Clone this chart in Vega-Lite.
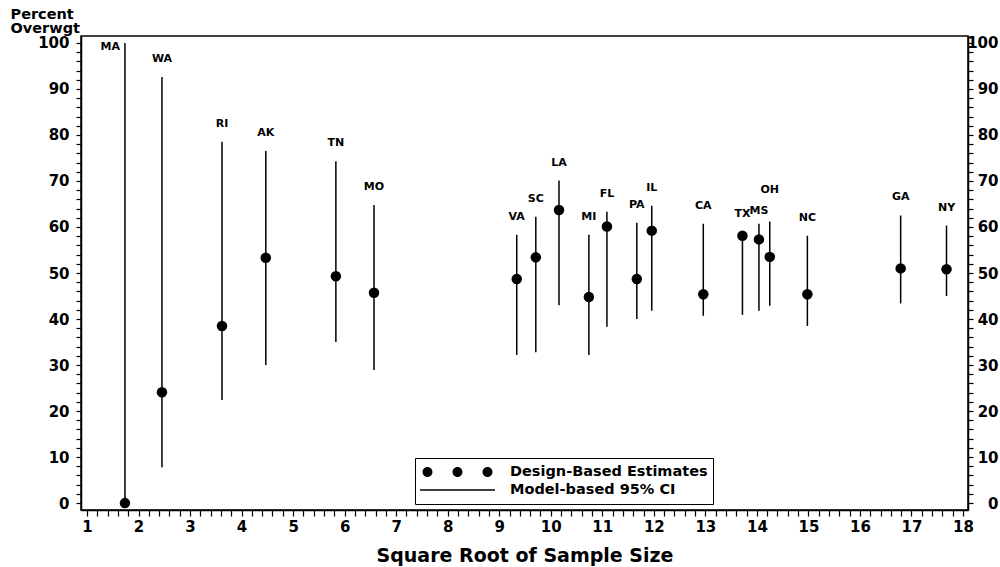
{
  "$schema": "https://vega.github.io/schema/vega-lite/v6.json",
  "width": 887,
  "height": 474,
  "autosize": {"type": "none"},
  "padding": {"left": 81, "top": 36, "right": 32, "bottom": 57},
  "background": "white",
  "config": {
    "view": {"stroke": "black", "strokeWidth": 1.5},
    "axis": {
      "grid": false,
      "domainColor": "black",
      "domainWidth": 1.5,
      "tickColor": "black",
      "tickWidth": 1.2,
      "labelColor": "black",
      "titleColor": "black",
      "labelFont": "DejaVu Sans",
      "labelFontWeight": "bold",
      "labelFontSize": 15,
      "titleFont": "DejaVu Sans",
      "titleFontWeight": "bold",
      "labelOverlap": false,
      "labelFlush": false
    }
  },
  "data": {
    "values": [
      {"state": "MA", "x": 1.737, "est": 0.0, "lower": 0.0, "upper": 100.0},
      {"state": "WA", "x": 2.455, "est": 24.1, "lower": 7.8, "upper": 92.6},
      {"state": "RI", "x": 3.62, "est": 38.5, "lower": 22.4, "upper": 78.5},
      {"state": "AK", "x": 4.47, "est": 53.3, "lower": 30.0, "upper": 76.5},
      {"state": "TN", "x": 5.83, "est": 49.3, "lower": 35.0, "upper": 74.3},
      {"state": "MO", "x": 6.57, "est": 45.7, "lower": 28.9, "upper": 64.8},
      {"state": "VA", "x": 9.34, "est": 48.7, "lower": 32.2, "upper": 58.3},
      {"state": "SC", "x": 9.71, "est": 53.4, "lower": 32.8, "upper": 62.2},
      {"state": "LA", "x": 10.16, "est": 63.7, "lower": 43.0, "upper": 70.1},
      {"state": "MI", "x": 10.74, "est": 44.8, "lower": 32.2, "upper": 58.3},
      {"state": "FL", "x": 11.09, "est": 60.1, "lower": 38.3, "upper": 63.3},
      {"state": "PA", "x": 11.67, "est": 48.7, "lower": 40.0, "upper": 60.9},
      {"state": "IL", "x": 11.96, "est": 59.2, "lower": 41.8, "upper": 64.6},
      {"state": "CA", "x": 12.96, "est": 45.4, "lower": 40.7, "upper": 60.7},
      {"state": "TX", "x": 13.72, "est": 58.1, "lower": 40.9, "upper": 59.0},
      {"state": "MS", "x": 14.04, "est": 57.3, "lower": 41.8, "upper": 60.7},
      {"state": "OH", "x": 14.25, "est": 53.5, "lower": 42.9, "upper": 61.2},
      {"state": "NC", "x": 14.98, "est": 45.4, "lower": 38.5, "upper": 58.1},
      {"state": "GA", "x": 16.79, "est": 51.0, "lower": 43.4, "upper": 62.5},
      {"state": "NY", "x": 17.68, "est": 50.8, "lower": 45.0, "upper": 60.3}
    ]
  },
  "encoding": {
    "x": {
      "field": "x",
      "type": "quantitative",
      "scale": {"domain": [0.884, 18.097], "nice": false, "zero": false},
      "axis": {
        "title": "Square Root of Sample Size",
        "titleFontSize": 19,
        "titlePadding": 12,
        "values": [1,1.2,1.4,1.6,1.8,2,2.2,2.4,2.6,2.8,3,3.2,3.4,3.6,3.8,4,4.2,4.4,4.6,4.8,5,5.2,5.4,5.6,5.8,6,6.2,6.4,6.6,6.8,7,7.2,7.4,7.6,7.8,8,8.2,8.4,8.6,8.8,9,9.2,9.4,9.6,9.8,10,10.2,10.4,10.6,10.8,11,11.2,11.4,11.6,11.8,12,12.2,12.4,12.6,12.8,13,13.2,13.4,13.6,13.8,14,14.2,14.4,14.6,14.8,15,15.2,15.4,15.6,15.8,16,16.2,16.4,16.6,16.8,17,17.2,17.4,17.6,17.8,18],
        "labelExpr": "abs(datum.value - round(datum.value)) < 0.01 ? format(round(datum.value), 'd') : ''",
        "tickSize": 6,
        "labelPadding": 3,
        "encode": {"ticks": {"update": {"y2": {"signal": "abs(datum.value - round(datum.value)) < 0.01 ? 6 : 3"}}}}
      }
    }
  },
  "layer": [
    {
      "mark": {"type": "rule", "color": "black", "strokeWidth": 1.5},
      "encoding": {
        "y": {
          "field": "lower",
          "type": "quantitative",
          "scale": {"domain": [-1.5, 101.5], "nice": false, "zero": false},
          "axis": {
            "orient": "left",
            "title": ["Percent", "Overwgt"],
            "titleAngle": 0,
            "titleAlign": "left",
            "titleBaseline": "alphabetic",
            "titleX": -71,
            "titleY": -18,
            "titleFontSize": 14.5,
            "titleLineHeight": 14,
            "values": [0,2,4,6,8,10,12,14,16,18,20,22,24,26,28,30,32,34,36,38,40,42,44,46,48,50,52,54,56,58,60,62,64,66,68,70,72,74,76,78,80,82,84,86,88,90,92,94,96,98,100],
            "labelExpr": "datum.value % 10 === 0 ? datum.label : ''",
            "tickSize": 5,
            "labelPadding": 7,
            "encode": {"ticks": {"update": {"x2": {"signal": "datum.value % 10 === 0 ? -5 : -3"}}}}
          }
        },
        "y2": {"field": "upper"}
      }
    },
    {
      "mark": {"type": "point", "shape": "circle", "filled": true, "color": "black", "size": 110, "opacity": 1},
      "encoding": {
        "y": {
          "field": "est",
          "type": "quantitative",
          "scale": {"domain": [-1.5, 101.5], "nice": false, "zero": false},
          "axis": {
            "orient": "right",
            "title": null,
            "values": [0,2,4,6,8,10,12,14,16,18,20,22,24,26,28,30,32,34,36,38,40,42,44,46,48,50,52,54,56,58,60,62,64,66,68,70,72,74,76,78,80,82,84,86,88,90,92,94,96,98,100],
            "labelExpr": "datum.value % 10 === 0 ? datum.label : ''",
            "labelAlign": "right",
            "tickSize": 5,
            "labelPadding": 25,
            "encode": {"ticks": {"update": {"x2": {"signal": "datum.value % 10 === 0 ? 5 : 3"}}}}
          }
        }
      }
    },
    {
      "transform": [{"filter": "datum.state !== 'MA' && datum.state !== 'OH' && datum.state !== 'MS'"}],
      "mark": {"type": "text", "font": "DejaVu Sans", "fontWeight": "bold", "fontSize": 11, "baseline": "middle", "align": "center", "dy": -18, "color": "black"},
      "encoding": {
        "y": {"field": "upper", "type": "quantitative", "scale": {"domain": [-1.5, 101.5], "nice": false, "zero": false}, "axis": null},
        "text": {"field": "state"}
      }
    },
    {
      "transform": [{"filter": "datum.state === 'OH'"}],
      "mark": {"type": "text", "font": "DejaVu Sans", "fontWeight": "bold", "fontSize": 11, "baseline": "middle", "align": "center", "dy": -31, "color": "black"},
      "encoding": {
        "y": {"field": "upper", "type": "quantitative", "scale": {"domain": [-1.5, 101.5], "nice": false, "zero": false}, "axis": null},
        "text": {"field": "state"}
      }
    },
    {
      "transform": [{"filter": "datum.state === 'MS'"}],
      "mark": {"type": "text", "font": "DejaVu Sans", "fontWeight": "bold", "fontSize": 11, "baseline": "middle", "align": "center", "dy": -13, "color": "black"},
      "encoding": {
        "y": {"field": "upper", "type": "quantitative", "scale": {"domain": [-1.5, 101.5], "nice": false, "zero": false}, "axis": null},
        "text": {"field": "state"}
      }
    },
    {
      "transform": [{"filter": "datum.state === 'MA'"}],
      "mark": {"type": "text", "font": "DejaVu Sans", "fontWeight": "bold", "fontSize": 11, "baseline": "middle", "align": "right", "dx": -5, "dy": 4, "color": "black"},
      "encoding": {
        "y": {"field": "upper", "type": "quantitative", "scale": {"domain": [-1.5, 101.5], "nice": false, "zero": false}, "axis": null},
        "text": {"field": "state"}
      }
    },
    {
      "transform": [{"filter": "false"}],
      "mark": {"type": "point", "filled": true, "color": "black", "size": 5625, "opacity": 1},
      "encoding": {
        "y": {"field": "est", "type": "quantitative", "scale": {"domain": [-1.5, 101.5], "nice": false, "zero": false}, "axis": null},
        "shape": {
          "datum": "Design-Based Estimates",
          "type": "nominal",
          "scale": {
            "domain": ["Design-Based Estimates", "Model-based 95% CI"],
            "range": [
              "M-0.933,0A0.133,0.133,0,1,0,-0.667,0A0.133,0.133,0,1,0,-0.933,0ZM-0.133,0A0.133,0.133,0,1,0,0.133,0A0.133,0.133,0,1,0,-0.133,0ZM0.667,0A0.133,0.133,0,1,0,0.933,0A0.133,0.133,0,1,0,0.667,0Z",
              "M-1,-0.02L1,-0.02L1,0.02L-1,0.02Z"
            ]
          },
          "legend": {
            "orient": "none",
            "legendX": 334,
            "legendY": 422,
            "title": null,
            "strokeColor": "black",
            "padding": 5,
            "symbolSize": 5625,
            "symbolFillColor": "black",
            "symbolOpacity": 1,
            "symbolStrokeWidth": 0,
            "symbolOffset": 0,
            "labelFont": "DejaVu Sans",
            "labelFontWeight": "bold",
            "labelFontSize": 14.5,
            "labelColor": "black",
            "labelOffset": 15,
            "labelLimit": 400,
            "clipHeight": 18,
            "rowPadding": 0
          }
        }
      }
    }
  ],
  "resolve": {"axis": {"y": "independent"}}
}
